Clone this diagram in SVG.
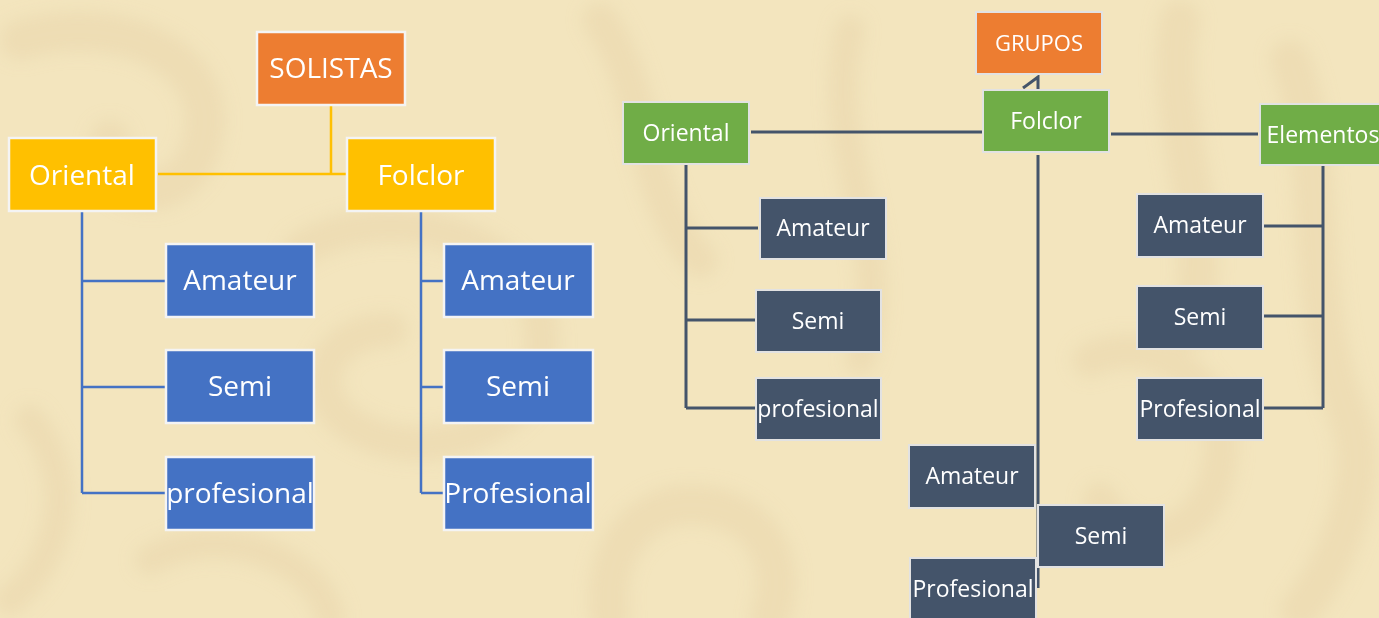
<svg xmlns="http://www.w3.org/2000/svg" width="1379" height="618" viewBox="0 0 1379 618">
<style>
.bgs{fill:none;stroke:#E9D6AC;stroke-linecap:round;opacity:0.5}
.org{fill:#ED7D31;stroke:#F4F4F4;stroke-width:2.5}
.yel{fill:#FFC000;stroke:#F4F4F4;stroke-width:2.5}
.blu{fill:#4472C4;stroke:#F4F4F4;stroke-width:2.5}
.grn{fill:#70AD47;stroke:#E2E2E2;stroke-width:2}
.dk{fill:#44546A;stroke:#E2E2E2;stroke-width:2}
.orgR{fill:#ED7D31;stroke:#E2E2E2;stroke-width:2}
.tL{font-family:"Open Sans","Liberation Sans",sans-serif;font-size:28px;fill:#FFFFFF;text-anchor:middle}
.tR{font-family:"Open Sans","Liberation Sans",sans-serif;font-size:23px;fill:#FFFFFF;text-anchor:middle}
.cy{fill:none;stroke:#FFC000;stroke-width:2.5}
.cb{fill:none;stroke:#4472C4;stroke-width:2.5}
.cd{fill:none;stroke:#44546A;stroke-width:3}
</style>
<defs>
<filter id="blur" x="-10%" y="-10%" width="120%" height="120%"><feGaussianBlur stdDeviation="8"/></filter>
</defs>
<g id="background">
<rect x="0" y="0" width="1379" height="618" fill="#F3E5BE"/>
<g filter="url(#blur)">
<path class="bgs" stroke-width="40" d="M20,40 C120,10 230,60 200,150 C180,210 100,200 110,140"/>
<path class="bgs" stroke-width="35" d="M300,250 C380,200 520,230 540,320 C560,420 440,470 360,430 C300,400 320,330 390,330"/>
<path class="bgs" stroke-width="30" d="M30,420 C80,480 60,560 10,600"/>
<path class="bgs" stroke-width="35" d="M600,20 C650,90 640,200 700,260"/>
<path class="bgs" stroke-width="30" d="M850,30 C820,150 900,250 860,360"/>
<path class="bgs" stroke-width="40" d="M1180,20 C1160,120 1220,220 1190,330"/>
<path class="bgs" stroke-width="40" d="M1290,60 C1330,160 1300,300 1350,420 C1370,480 1340,560 1300,610"/>
<path class="bgs" stroke-width="35" d="M1090,360 C1150,330 1230,380 1220,460 C1210,540 1130,560 1100,500"/>
<path class="bgs" stroke-width="40" d="M610,618 C600,540 650,500 700,505 C760,510 790,560 770,618"/>
<path class="bgs" stroke-width="30" d="M150,560 C220,520 320,560 330,618"/>
</g>
</g>
<g id="connectors">
<path class="cy" d="M331,106 V174 M158,174 H346"/>
<path class="cb" d="M82,212 V493 M82,281 H165 M82,387 H165 M82,493 H165"/>
<path class="cb" d="M421,212 V493 M421,281 H443 M421,387 H443 M421,493 H443"/>
<path class="cd" d="M751,132 H982 M1111,134 H1258"/>
<path class="cd" d="M1038,155 V588"/>
<path class="cd" d="M686,165 V408 M686,228 H758 M686,320 H755 M686,408 H755"/>
<path class="cd" d="M1323,166 V408 M1264,226 H1323 M1264,316 H1323 M1264,408 H1323"/>
<path class="cd" stroke-width="2.5" d="M1023,88 L1038,77 V89"/>
</g>
<g id="solistas"><rect class="org" x="257" y="32" width="148" height="73"/><text class="tL" x="331" y="78">SOLISTAS</text></g>
<g id="l-oriental"><rect class="yel" x="9" y="138" width="147" height="73"/><text class="tL" x="82" y="185">Oriental</text></g>
<g id="l-folclor"><rect class="yel" x="347" y="138" width="148" height="73"/><text class="tL" x="421" y="185">Folclor</text></g>
<g id="l-or-amateur"><rect class="blu" x="166" y="244" width="148" height="73"/><text class="tL" x="240" y="290">Amateur</text></g>
<g id="l-or-semi"><rect class="blu" x="166" y="350" width="148" height="73"/><text class="tL" x="240" y="396">Semi</text></g>
<g id="l-or-profesional"><rect class="blu" x="166" y="457" width="148" height="73"/><text class="tL" x="240" y="503">profesional</text></g>
<g id="l-fo-amateur"><rect class="blu" x="444" y="244" width="149" height="73"/><text class="tL" x="518" y="290">Amateur</text></g>
<g id="l-fo-semi"><rect class="blu" x="444" y="350" width="149" height="73"/><text class="tL" x="518" y="396">Semi</text></g>
<g id="l-fo-profesional"><rect class="blu" x="444" y="457" width="149" height="73"/><text class="tL" x="518" y="503">Profesional</text></g>
<g id="grupos"><rect class="orgR" x="976" y="12" width="126" height="62"/><text class="tR" x="1039" y="51" style="font-size:22px">GRUPOS</text></g>
<g id="r-folclor"><rect class="grn" x="983" y="90" width="126" height="62"/><text class="tR" x="1046" y="129">Folclor</text></g>
<g id="r-oriental"><rect class="grn" x="623" y="102" width="126" height="62"/><text class="tR" x="686" y="141">Oriental</text></g>
<g id="r-elementos"><rect class="grn" x="1260" y="104" width="126" height="61"/><text class="tR" x="1323" y="143">Elementos</text></g>
<g id="r-or-amateur"><rect class="dk" x="760" y="198" width="126" height="61"/><text class="tR" x="823" y="236">Amateur</text></g>
<g id="r-or-semi"><rect class="dk" x="756" y="290" width="125" height="62"/><text class="tR" x="818" y="329">Semi</text></g>
<g id="r-or-profesional"><rect class="dk" x="756" y="378" width="125" height="62"/><text class="tR" x="818" y="417">profesional</text></g>
<g id="r-el-amateur"><rect class="dk" x="1137" y="194" width="126" height="63"/><text class="tR" x="1200" y="233">Amateur</text></g>
<g id="r-el-semi"><rect class="dk" x="1137" y="286" width="126" height="63"/><text class="tR" x="1200" y="325">Semi</text></g>
<g id="r-el-profesional"><rect class="dk" x="1137" y="378" width="126" height="62"/><text class="tR" x="1200" y="417">Profesional</text></g>
<g id="r-fo-amateur"><rect class="dk" x="909" y="445" width="126" height="63"/><text class="tR" x="972" y="484">Amateur</text></g>
<g id="r-fo-semi"><rect class="dk" x="1038" y="505" width="126" height="62"/><text class="tR" x="1101" y="544">Semi</text></g>
<g id="r-fo-profesional"><rect class="dk" x="910" y="558" width="126" height="62"/><text class="tR" x="973" y="597">Profesional</text></g>
</svg>
